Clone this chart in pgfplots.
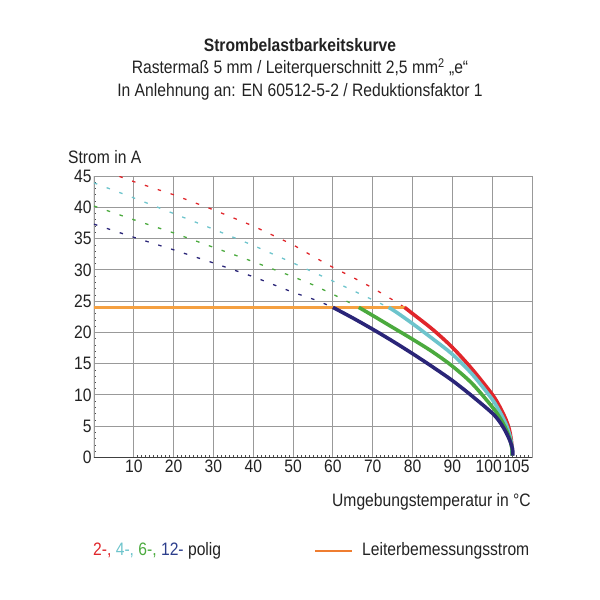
\documentclass[border=0pt]{standalone}
\usepackage{pgfplots}
\pgfplotsset{compat=1.18}
\usepackage{fontspec}
\setmainfont{Liberation Sans}[FakeStretch=0.87]

\definecolor{cRed}{HTML}{E0262B}
\definecolor{cCyan}{HTML}{6DC4CC}
\definecolor{cGreen}{HTML}{4BAA3E}
\definecolor{cNavy}{HTML}{2A2578}
\definecolor{cBlueTxt}{HTML}{2C3E8C}
\definecolor{cOrange}{HTML}{F5A040}
\definecolor{cOrangeL}{HTML}{EF7D30}
\definecolor{cText}{HTML}{222222}

\newcommand{\fs}{\fontsize{18}{20}\selectfont}

\begin{document}
\begin{tikzpicture}[x=1pt,y=1pt]
\useasboundingbox (-94,-142.5) rectangle (506,457.5);
\begin{axis}[
    at={(0,0)}, anchor=south west,
    scale only axis, width=438pt, height=281.5pt,
    xmin=0, xmax=110, ymin=0, ymax=45,
    xtick={10,20,...,100,110},
    xticklabels={10,20,30,40,50,60,70,80,90,\hspace*{-7pt}100,{}},
    extra x ticks={105}, extra x tick labels={105},
    extra x tick style={grid=none, xticklabel style={xshift=4.5pt}},
    ytick={0,5,...,45},
    minor x tick num=9, minor y tick num=4,
    grid=major,
    grid style={black!40, line width=0.9pt},
    axis line style={black!40, line width=0.9pt},
    tick pos=left, tick align=inside,
    major tick length=0pt, minor tick length=2.5pt,
    minor tick style={black!70, line width=0.6pt},
    tick label style={font=\fs, text=cText},
    /pgf/number format/assume math mode=true,
    xticklabel style={yshift=1pt},
    yticklabel style={xshift=1pt},
]
% dashed extensions above the rated current
\addplot[cRed, line width=1.3pt, dash pattern=on 3.5pt off 10pt] coordinates {
 (0,46.4) (10,44.1) (20,42.0) (30,39.6) (40,37.0) (50,34.0) (55.7,31.9) (60,30.4) (65,28.8) (70,27.1) (75,25.2) (78,24)};
\addplot[cCyan, line width=1.3pt, dash pattern=on 3.5pt off 10pt] coordinates {
 (0,43.9) (10,41.5) (20,39.0) (30,36.5) (40,33.9) (50,31.1) (60,28.2) (65,26.7) (70,25.2) (74,24)};
\addplot[cGreen, line width=1.3pt, dash pattern=on 3.5pt off 10pt] coordinates {
 (0,40.2) (10,38.0) (20,35.9) (30,33.6) (40,31.3) (50,28.9) (55,27.6) (60,26.1) (66.5,24)};
\addplot[cNavy, line width=1.3pt, dash pattern=on 3.5pt off 10pt] coordinates {
 (0,37.3) (10,35.2) (20,33.2) (30,31.1) (40,28.9) (50,26.4) (56,25.1) (60,24)};
% rated current
\addplot[cOrange, line width=2.3pt] coordinates {(0,24) (78,24)};
% derating curves
\addplot[cRed, line width=3.6pt, smooth, tension=0.5] coordinates {
 (78,24) (80,23.0) (85,20.5) (90,17.6) (95,14.1) (100,10.1) (102,8.0) (103.5,6.0) (104.3,4.5) (104.8,2.8) (105,1.2) (105,0.3)};
\addplot[cCyan, line width=3.6pt, smooth, tension=0.5] coordinates {
 (74,24) (76,23.2) (80,21.4) (85,19.0) (90,16.5) (95,13.3) (100,9.3) (102,7.2) (103.5,5.3) (104.4,3.6) (104.9,2.0) (105,0.3)};
\addplot[cGreen, line width=3.6pt, smooth, tension=0.5] coordinates {
 (66.5,24) (70,22.7) (75,20.8) (80,18.9) (85,16.9) (90,14.6) (95,11.8) (100,8.1) (102,6.3) (103.5,4.5) (104.5,2.8) (105,1.2) (105,0.3)};
\addplot[cNavy, line width=3.6pt, smooth, tension=0.5] coordinates {
 (60,24) (65,22.3) (70,20.5) (75,18.6) (80,16.6) (85,14.5) (90,12.3) (95,9.8) (100,7.1) (102,5.6) (103.5,4.0) (104.5,2.6) (105.1,1.4) (105.2,0.3)};
\draw[black!75, line width=1pt] (rel axis cs:0,1) -- (rel axis cs:0,0) -- (rel axis cs:1,0);
\end{axis}

\node[font=\bfseries\fs, text=cText] at (206,412.5) {Strombelastbarkeitskurve};
\node[font=\fs, text=cText] at (206,389.5) {Rastermaß 5 mm / Leiterquerschnitt 2,5 mm\textsuperscript{2} „e“};
\node[font=\fs, text=cText] at (206,365.5) {In Anlehnung an: EN 60512-5-2 / Reduktionsfaktor 1};
\node[font=\fs, text=cText, anchor=west, inner sep=0pt] at (-26,300.5) {Strom in A};
\node[font=\fs, text=cText, anchor=east, inner sep=0pt] at (437,-44.5) {Umgebungstemperatur in °C};

\node[font=\fs, text=cText, anchor=west, inner sep=0pt] at (-1,-93.5)
  {\textcolor{cRed}{2-,} \textcolor{cCyan}{4-,} \textcolor{cGreen}{6-,} \textcolor{cBlueTxt}{12-} polig};
\draw[cOrangeL, line width=2.5pt] (221,-93.5) -- (258,-93.5);
\node[font=\fs, text=cText, anchor=west, inner sep=0pt] at (268,-93.5) {Leiterbemessungsstrom};
\end{tikzpicture}
\end{document}
